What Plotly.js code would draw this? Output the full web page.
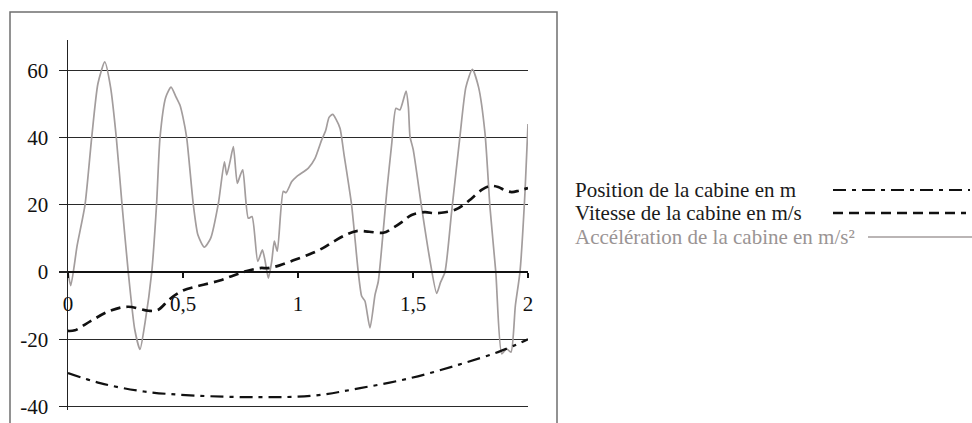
<!DOCTYPE html>
<html>
<head>
<meta charset="utf-8">
<script src="https://cdn.plot.ly/plotly-3.0.1.min.js"></script>
<style>
  html, body { margin: 0; padding: 0; background: #ffffff; }
  #chart { width: 972px; height: 423px; }
</style>
</head>
<body>
<div id="chart"></div>
<script>
// Cabin motion over time (s): acceleration (m/s²), velocity (m/s), position (m)
const accelT = [0, 0.012, 0.04, 0.074, 0.103, 0.13, 0.16, 0.185, 0.21, 0.235, 0.262, 0.29, 0.313, 0.335, 0.364,
  0.385, 0.40, 0.425, 0.448, 0.47, 0.487, 0.5, 0.516, 0.545, 0.565, 0.593, 0.62, 0.654, 0.68, 0.69, 0.705,
  0.719, 0.736, 0.75, 0.76, 0.784, 0.80, 0.825, 0.845, 0.857, 0.871, 0.886, 0.897, 0.91, 0.936, 0.948,
  0.973, 0.994, 1.045, 1.074, 1.103, 1.12, 1.135, 1.151, 1.165, 1.183, 1.20, 1.233, 1.262, 1.277, 1.291,
  1.313, 1.335, 1.349, 1.365, 1.386, 1.407, 1.426, 1.443, 1.47, 1.48, 1.487, 1.501, 1.538, 1.57, 1.603,
  1.62, 1.639, 1.668, 1.704, 1.73, 1.758, 1.785, 1.813, 1.835, 1.86, 1.886, 1.907, 1.926, 1.945, 1.965,
  1.987, 2.0];
const accelV = [0, -4, 8, 20, 40, 56, 62.5, 55, 40, 20, 0, -17, -23, -15, 0,
  20, 40, 52, 55, 52, 49.6, 46, 40, 20, 11, 7.4, 10, 20.5, 32.8, 28.9, 33,
  37.3, 26.4, 29, 30.4, 16, 16.5, 3.2, 6.6, 3.3, -1.8, 3.3, 9.2, 6.2, 24, 23.6,
  26.9, 28.4, 30.9, 33.8, 39.3, 42, 46, 46.9, 45.5, 42.7, 35, 20, 0, -7.2, -8.6,
  -16.6, -6.7, -2.8, 8, 24, 37.8, 48.7, 48.2, 53.8, 49, 40.3, 36.4, 19, 5, -6.3,
  -3, 0, 18, 40.3, 55, 60.3, 55, 41.3, 19, 0, -24.3, -22.8, -23.8, -10, 0,
  23.8, 44];

const speedT = [0, 0.03, 0.1, 0.183, 0.26, 0.35, 0.39, 0.443, 0.5, 0.574, 0.66, 0.72, 0.777, 0.835, 0.87,
  0.92, 0.98, 1.05, 1.11, 1.16, 1.212, 1.255, 1.31, 1.371, 1.41, 1.458, 1.494, 1.55, 1.596, 1.64, 1.683,
  1.72, 1.755, 1.8, 1.835, 1.87, 1.9, 1.929, 1.96, 2.0];
const speedV = [-17.5, -17.3, -14.5, -11.5, -10.3, -11.5, -11.3, -8, -5.5, -4, -2.5, -1, 0.3, 1.2, 1.2,
  2, 3.5, 5.3, 7.2, 9.3, 11.2, 12.2, 12, 11.7, 13, 15.2, 17, 17.8, 17.5, 17.8, 18.5,
  20, 21.9, 24.5, 25.6, 25.3, 24.3, 23.8, 24.2, 25];

const posT = [0, 0.14, 0.33, 0.55, 0.83, 1.07, 1.27, 1.49, 1.7, 1.88, 2.0];
const posV = [-30, -33, -35.5, -36.7, -37.2, -36.7, -34.5, -31.5, -27.5, -23.5, -20];

const xTickVals = [0, 0.5, 1, 1.5, 2];
const xTickText = ['0', '0,5', '1', '1,5', '2'];
const yTickVals = [-40, -20, 0, 20, 40, 60];
const yTickText = ['-40', '-20', '0', '20', '40', '60'];

const legendLabels = ['Position de la cabine en m', 'Vitesse de la cabine en m/s', 'Accélération de la cabine en m/s²'];

const SERIF = '"Liberation Serif", "DejaVu Serif", serif';
const ACC_COLOR = '#a39d9d';
const POS_DASH = '13px,6px,4px,6px';
const SPD_DASH = '10px,6px';

// plot-area geometry in pixels, used to place the side legend and frame
const W = 972, H = 423;
const M = { l: 68, r: 444, t: 40, b: 13 };
const pw = W - M.l - M.r, ph = H - M.t - M.b;
const px2x = p => (p - M.l) / pw;
const py2y = p => (H - M.b - p) / ph;

const yRange = [-41, 69];

const traces = [
  { x: accelT, y: accelV, name: legendLabels[2], mode: 'lines',
    line: { color: ACC_COLOR, width: 1.7, shape: 'spline', smoothing: 0.6 } },
  { x: posT, y: posV, name: legendLabels[0], mode: 'lines',
    line: { color: '#111', width: 2.2, dash: POS_DASH, shape: 'spline' } },
  { x: speedT, y: speedV, name: legendLabels[1], mode: 'lines',
    line: { color: '#111', width: 2.7, dash: SPD_DASH, shape: 'spline' } }
];

// side legend: text first, line sample after
const rowsY = [190, 213, 237];
const annotations = legendLabels.map((t, i) => ({
  xref: 'paper', yref: 'paper', x: px2x(573), y: py2y(rowsY[i]),
  xanchor: 'left', yanchor: 'middle', showarrow: false, text: t,
  font: { family: SERIF, size: 21, color: i === 2 ? '#9a9494' : '#1a1a1a' }
}));
const sampleStart = [833, 833, 868];
const sampleEnd = [970, 966, 972];
const sampleLine = [
  { color: '#111', width: 2, dash: POS_DASH },
  { color: '#111', width: 2.7, dash: SPD_DASH },
  { color: ACC_COLOR, width: 1.7 }
];
const shapes = rowsY.map((ry, i) => ({
  type: 'line', xref: 'paper', yref: 'paper',
  x0: px2x(sampleStart[i]), x1: px2x(sampleEnd[i]), y0: py2y(ry), y1: py2y(ry),
  line: sampleLine[i]
}));
// chart frame
shapes.push({
  type: 'rect', xref: 'paper', yref: 'paper',
  x0: px2x(10), x1: px2x(557), y0: py2y(440), y1: py2y(12),
  line: { color: '#6f6f6f', width: 1.5 }, fillcolor: 'rgba(0,0,0,0)', layer: 'below'
});

const layout = {
  width: W, height: H,
  margin: M,
  paper_bgcolor: '#ffffff', plot_bgcolor: '#ffffff',
  showlegend: false,
  font: { family: SERIF, color: '#111' },
  xaxis: {
    range: [0, 2], anchor: 'free', position: -yRange[0] / (yRange[1] - yRange[0]),
    tickvals: xTickVals, ticktext: xTickText,
    ticks: 'outside', ticklen: 5, tickwidth: 1.5, tickcolor: '#111',
    ticklabelstandoff: 8,
    showline: true, linecolor: '#111', linewidth: 2,
    showgrid: false, zeroline: false,
    tickfont: { family: SERIF, size: 21, color: '#111' }
  },
  yaxis: {
    range: yRange, tickvals: yTickVals, ticktext: yTickText,
    ticks: 'outside', ticklen: 8, tickwidth: 1.3, tickcolor: '#222',
    ticklabelstandoff: 6,
    showline: true, linecolor: '#222', linewidth: 1.5,
    showgrid: true, gridcolor: '#2a2a2a', gridwidth: 1.3,
    zeroline: false,
    tickfont: { family: SERIF, size: 21, color: '#111' }
  },
  annotations: annotations,
  shapes: shapes
};

Plotly.newPlot('chart', traces, layout, { staticPlot: true, displayModeBar: false });
</script>
</body>
</html>
